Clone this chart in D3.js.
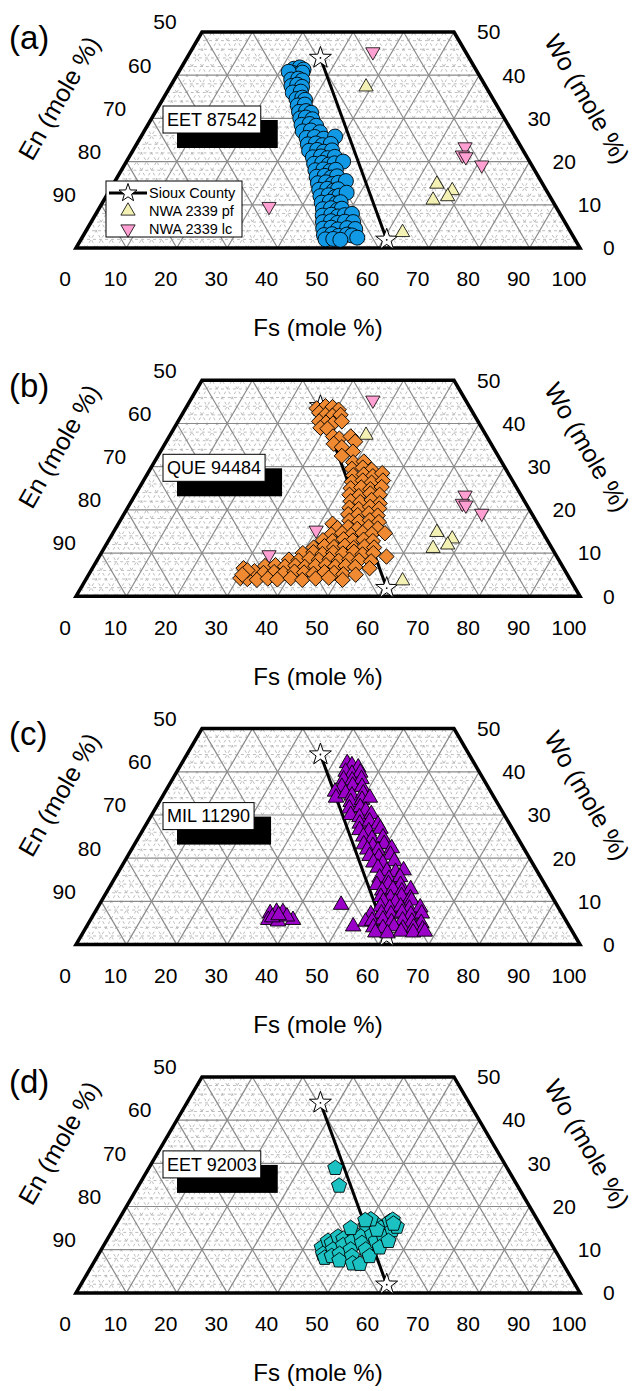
<!DOCTYPE html>
<html>
<head>
<meta charset="utf-8">
<script src="https://cdn.jsdelivr.net/npm/d3@7"></script>
<style>
  body { margin: 0; background: #fff; }
  text { font-family: "Liberation Sans", Arial, sans-serif; fill: #000; }
</style>
</head>
<body>
<svg id="chart" width="634" height="1391"></svg>
<script>
// ---- data (Fs, Wo) in mole % ; En = 100 - Fs - Wo ----
const panelLabels = ["(a)", "(b)", "(c)", "(d)"];
const sampleNames = ["EET 87542", "QUE 94484", "MIL 11290", "EET 92003"];
const fsTicks = [0, 10, 20, 30, 40, 50, 60, 70, 80, 90, 100];
const enTicks = [50, 60, 70, 80, 90];
const woTicks = [0, 10, 20, 30, 40, 50];
const legendNames = ["Sioux County", "NWA 2339 pf", "NWA 2339 lc"];

const siouxCounty = [[26.5, 44.0], [60.7, 1.9]];
const nwaPf = [[38.9, 37.3], [64.2, 14.8], [68.0, 13.3], [65.3, 11.1], [67.8, 11.9], [63.0, 3.6]];
const nwaLc = [[36.2, 45.4], [65.5, 23.4], [65.9, 21.5], [66.8, 21.1], [70.9, 19.2], [33.5, 9.6], [40.0, 15.3]];

const eet87542 = [
  [22.5,41.5],[23.5,41.8],[24.5,41.3],[22.8,40.5],[23.8,40.2],[24.6,40.6],[21.8,40.8],
  [23.2,39],[24.5,39.2],[25.5,38.8],[24,37.5],[25,37.8],[26.2,37.3],
  [25,36],[26.5,36.2],[26.5,34.5],[27.5,34.8],[28.3,34.3],[27.5,33],[28.8,33.2],
  [28.5,31.5],[29.8,31.7],[31,31.3],[29.5,30],[30.5,30.2],[32,29.8],
  [30.5,28.5],[32,28.7],[33.5,28.3],[31.5,27],[33,27.2],[35,26.8],
  [33,25.5],[34.5,25.7],[36.5,25.3],[38.5,25.8],[34,24],[35.5,24.2],[37,23.8],[38.5,24.1],
  [35,22.5],[36.5,22.7],[38,22.3],[39.5,22.6],[36.5,21],[38,21.2],[39.5,20.8],[40.8,21.1],
  [37.5,19.5],[39,19.7],[40.5,19.3],[41.5,19.6],[43,20],[38.5,18],[40,18.2],[41.5,17.8],[42.5,18.1],
  [39.5,16.5],[41,16.7],[42.5,16.3],[43.5,16.6],[40.5,15],[42,15.2],[43.5,14.8],[44.5,15.1],[45.8,15.5],
  [41.5,13.5],[43,13.7],[44.5,13.3],[45.2,13.6],[42.5,12],[44,12.2],[45.5,11.8],[46.2,12.1],[47.3,12.8],
  [43.5,10.5],[45,10.7],[46.5,10.3],[47.2,10.6],[44.5,9],[46,9.2],[47.5,8.8],[48.2,9.1],
  [45.2,7.5],[46.8,7.7],[48.3,7.3],[49.5,7.6],[50.8,7.9],[46,6],[47.5,6.2],[49,5.8],[50.3,6.1],[52,6],
  [46.8,4.5],[48.3,4.7],[49.8,4.3],[51.5,4.6],[53.2,4.4],[47.7,3],[49.2,3.2],[50.7,2.8],[52.2,3.1],[53.3,2.9],
  [48.5,2],[50,2.1],[51.5,1.9],[54.6,2.4]
];

const que94484 = [
  [26,43.5],[27.5,44],[29,43.8],[30.5,43.2],[27,42.5],[28.5,42],[30,41.8],[31.5,42],
  [28,40.5],[29.5,40.2],[31,40],[32.5,40.5],[29,39],[30.5,38.8],
  [32.5,37],[34,36.5],[36,37],[33.5,35.3],[35.5,34.5],[37.5,35.8],[38.2,33.5],[36.5,32.5],
  [39.5,31],[41.5,31.2],[40,29.5],[42,29.8],[44,29.3],[41,28],[43,28.2],[45,27.8],[46.5,28.5],
  [41.5,26.5],[43.5,26.8],[45.5,26.3],[47.5,26.8],[42,25],[44,25.2],[46,24.8],[48,25.3],
  [42.5,23.5],[44.5,23.2],[46.5,23.8],[48.5,23.5],[43.5,22],[45.5,21.8],[47.5,22.3],[49.5,21.5],
  [44,20.5],[46,20.2],[48,20.7],[50,20.3],[44.5,19],[46.5,18.8],[48.5,19.2],[50.5,18.7],
  [42.5,16.8],[45.5,17.5],[47.5,17.3],[49.5,17.6],[51.5,17.2],
  [44,15.8],[46,16],[48,15.6],[50,16.1],[52,15.7],
  [43.5,14.3],[45.5,14.6],[47.5,14.2],[49.5,14.7],[51.5,14.4],[54,14.6],
  [42.5,13],[44.5,12.8],[46.5,13.2],[48.5,12.9],[50.5,13.1],[52.5,12.8],
  [41.5,11.3],[43.5,11.6],[45.5,11.4],[47.5,11.7],[49.5,11.2],[51.5,11.5],[53.5,11.3],
  [40,10],[42,10.2],[44,9.8],[46,10.1],[48,9.9],[50,10.3],[52,9.7],[54,10],[57,9.2],
  [38,8.5],[40,8.3],[42,8.7],[44,8.4],[46,8.6],[48,8.2],[50,8.5],[52,8.3],[54.5,8.1],
  [34,7],[36,7.2],[38,6.9],[40,7.1],[42,6.8],[44,7],[46,7.2],[48,6.9],[50,7],[52,6.8],[55,6.5],
  [31,5.5],[32.5,5.8],[34.5,5.4],[36.5,5.6],[38.5,5.3],[40.5,5.7],[42.5,5.5],[44.5,5.2],
  [46.5,5.6],[48.5,5.4],[50.5,5.1],[53,5],
  [30.5,4.2],[32,4],[34,3.8],[36,4.1],[38,3.9],[40.5,4.2],[43,3.8],[45.5,4.1],[48,4.3],[51,3.8],
  [30,6.5],[31,6],[30.5,5]
];

const mil11290 = [
  [32.8,42],[34,41.5],[35.5,41],[33.5,40],[35,39.5],[36.5,39.8],[34,38.2],[35.8,38],[37.5,38.3],
  [34.5,36.5],[36.5,36.8],[38.5,36.5],[33.7,35.4],
  [34.6,34],[36,35],[37.5,34.5],[39.5,35],[38,33],[40,33.5],[41.3,34],
  [38.5,31.5],[40.5,31.8],[42,31],[39.5,30],[41.5,29.5],[43.5,30.2],
  [42.3,28],[44,28.5],[46,27.8],[43,26.5],[45,26.2],[47,26.8],
  [44.5,25],[46.5,24.5],[48.5,24.8],[45.5,23.2],[47.5,22.8],[49.5,23.3],[46.8,22],[49,21.8],[51.5,22.3],
  [48,20.5],[50,20.2],[52,20.8],[49.5,19],[51.5,18.8],[53.5,19.3],[51,17.8],
  [53.2,17],[55,16.8],[56.4,17.2],[52.5,15.5],[54.5,15.2],[56.5,15.6],[52.8,13.8],[55,14],[57.5,13.8],
  [54.5,12.5],[56.5,12.8],[58.5,12.3],[60,12.8],[55,11],[57,10.8],[59,11.2],[61,10.7],
  [56,10],[58.5,9.8],[61.5,10.2],
  [48,9.2],[56,8.8],[58,8.5],[60,8.8],[62,8.3],[64,8.6],[55,7],[57,7.2],[59,7],[61,7.4],[63,6.9],[65,7.2],
  [52.9,4.2],[54.8,5.3],[56,5.5],[58,5.8],[60,5.2],[62,5.6],[64,5.3],[66,5],
  [57,4],[59,3.8],[61,4.2],[63,3.7],[65,4],[67,3.5],[58,2.8],[60.5,2.6],[63,3],[65.5,2.8],[67.7,3],
  [34.9,7.25],[36,7.6],[37.3,7.5],[40.2,5.7],[35.3,5.7],[37.4,5.35],[38.6,6.5],[35.8,6.3],[36.8,6.8]
];

const eet92003 = [
  [37,28.9],[39.8,24.8],
  [43.5,10.5],[44,12],[44.5,9],[45.3,8.1],[45,11.5],[45.5,13],[46,10],[46.5,8.5],[46.8,12.5],
  [47.5,11],[47.8,9],[48,14],[48.5,7.5],[48.8,12],[49.5,10],[49.8,15.5],[50,13],[50.5,8.5],
  [51,11.5],[51.5,16],[51.5,6.8],[52,13.5],[52.5,10],[53,6.7],[53,15],[53.5,12],[54,8.5],
  [54,16.5],[54.4,16.9],[54.5,13],[55,10.5],[55.5,14.5],[56,15.3],[56,12],[52.4,14.6],
  [50,17],[47,15],[49,16.8],[55,16]
];

// ---- layout ----
const panelStep = 348.3;
const x = d3.scaleLinear().domain([0, 100]).range([76, 580]);
const y = d3.scaleLinear().domain([0, 50]).range([248, 32]);
const pt = d => [x(d[0] + d[1] / 2), y(d[1])];

function starPath(ro, ri) {
  const p = d3.path();
  for (let k = 0; k < 10; k++) {
    const r = k % 2 ? ri : ro, a = -Math.PI / 2 + k * Math.PI / 5;
    k ? p.lineTo(r * Math.cos(a), r * Math.sin(a)) : p.moveTo(r * Math.cos(a), r * Math.sin(a));
  }
  p.closePath();
  return p.toString();
}
function pentagonPath(r) {
  const p = d3.path();
  for (let k = 0; k < 5; k++) {
    const a = -Math.PI / 2 + k * 2 * Math.PI / 5;
    k ? p.lineTo(r * Math.cos(a), r * Math.sin(a)) : p.moveTo(r * Math.cos(a), r * Math.sin(a));
  }
  p.closePath();
  return p.toString();
}

const shapes = {
  circle: d3.symbol(d3.symbolCircle, 177)(),
  diamond: d3.symbol(d3.symbolSquare, 118)(),
  triangle: d3.symbol(d3.symbolTriangle, 105)(),
  pentagon: pentagonPath(8),
  up: d3.symbol(d3.symbolTriangle, 88)(),
  star: starPath(11.5, 4.6)
};

const panels = [
  { data: eet87542, shape: "circle", color: "#1199e6", rot: 0, nwa: true, legend: true },
  { data: que94484, shape: "diamond", color: "#f08a32", rot: 45, nwa: true, legend: false },
  { data: mil11290, shape: "triangle", color: "#9a00c8", rot: 0, nwa: false, legend: false },
  { data: eet92003, shape: "pentagon", color: "#1cc2c2", rot: 0, nwa: false, legend: false }
];

function seg(kind, v) {
  const top = Math.min(50, 100 - v);
  if (kind === "wo") return [pt([0, v]), pt([100 - v, v])];
  if (kind === "fs") return [pt([v, 0]), pt([v, top])];
  return [pt([100 - v, 0]), pt([100 - v - top, top])];
}

const svg = d3.select("#chart");
const line = d3.line();

panels.forEach((p, i) => {
  const g = svg.append("g").attr("transform", `translate(0,${i * panelStep})`);

  // minor texture lines
  const minor = [];
  d3.range(2, 100, 2).filter(v => v % 10).forEach(v => {
    if (v < 50) minor.push(seg("wo", v));
    minor.push(seg("fs", v));
    minor.push(seg("en", v));
  });
  g.append("g").selectAll("path").data(minor).join("path")
    .attr("d", line).attr("stroke", "#b5b5b5").attr("stroke-width", 0.9)
    .attr("stroke-dasharray", "3,3").attr("fill", "none");

  // major grid
  const major = [];
  d3.range(10, 100, 10).forEach(v => {
    if (v < 50) major.push(seg("wo", v));
    major.push(seg("fs", v));
    major.push(seg("en", v));
  });
  g.append("g").selectAll("path").data(major).join("path")
    .attr("d", line).attr("stroke", "#8a8a8a").attr("stroke-width", 1.2).attr("fill", "none");

  // outline
  g.append("path")
    .attr("d", line([pt([0, 0]), pt([0, 50]), pt([50, 50]), pt([100, 0])]) + "Z")
    .attr("fill", "none").attr("stroke", "#000").attr("stroke-width", 3.5)
    .attr("stroke-linejoin", "miter");

  // tick labels
  g.append("g").selectAll("text").data(fsTicks).join("text")
    .attr("x", d => x(d) - 11).attr("y", 279).attr("dy", "0.35em")
    .attr("text-anchor", "middle").attr("font-size", 21).text(d => d);
  g.append("g").selectAll("text").data(enTicks).join("text")
    .attr("x", d => pt([0, 100 - d])[0] - 37).attr("y", d => pt([0, 100 - d])[1] - 10)
    .attr("dy", "0.35em").attr("text-anchor", "middle").attr("font-size", 21).text(d => d);
  g.append("g").selectAll("text").data(woTicks).join("text")
    .attr("x", d => pt([100 - d, d])[0] + 23).attr("y", d => y(d))
    .attr("dy", "0.35em").attr("text-anchor", "start").attr("font-size", 21).text(d => d);

  // axis titles
  g.append("text").attr("transform", "translate(59,98) rotate(-60)")
    .attr("text-anchor", "middle").attr("dy", "0.35em").attr("font-size", 25).text("En (mole %)");
  g.append("text").attr("transform", "translate(587,99) rotate(60)")
    .attr("text-anchor", "middle").attr("dy", "0.35em").attr("font-size", 25).text("Wo (mole %)");
  g.append("text").attr("x", 318).attr("y", 328).attr("dy", "0.35em")
    .attr("text-anchor", "middle").attr("font-size", 24).text("Fs (mole %)");
  g.append("text").attr("x", 9).attr("y", 37).attr("dy", "0.35em")
    .attr("font-size", 33).text(panelLabels[i]);

  // sample name box with black shadow
  const shadow = g.append("rect").attr("fill", "#000");
  const box = g.append("rect").attr("fill", "#fff").attr("stroke", "#000").attr("stroke-width", 1);
  const name = g.append("text").attr("x", 167).attr("y", 119.5).attr("dy", "0.35em")
    .attr("font-size", 18).text(sampleNames[i]);
  const tw = name.node().getComputedTextLength();
  box.attr("x", 163).attr("y", 106).attr("width", tw + 8).attr("height", 27);
  shadow.attr("x", 177).attr("y", 120).attr("width", tw + 11).attr("height", 28);

  // Sioux County tie line
  g.append("path").attr("d", line(siouxCounty.map(pt)))
    .attr("stroke", "#000").attr("stroke-width", 3).attr("fill", "none");
  const stars = g.append("g").selectAll("g").data(siouxCounty).join("g")
    .attr("transform", d => `translate(${pt(d)})`);
  stars.append("path").attr("d", shapes.star).attr("fill", "#fff").attr("stroke", "#000").attr("stroke-width", 1);
  stars.append("circle").attr("r", 0.9).attr("fill", "#000");

  if (p.nwa) {
    g.append("g").selectAll("path").data(nwaPf).join("path")
      .attr("d", shapes.up).attr("transform", d => `translate(${pt(d)})`)
      .attr("fill", "#f4f1b4").attr("stroke", "#000").attr("stroke-width", 0.8);
    g.append("g").selectAll("path").data(nwaLc).join("path")
      .attr("d", shapes.up).attr("transform", d => `translate(${pt(d)}) rotate(180)`)
      .attr("fill", "#ff9fd2").attr("stroke", "#000").attr("stroke-width", 0.8);
  }

  // sample points
  g.append("g").selectAll("path").data(p.data).join("path")
    .attr("d", shapes[p.shape])
    .attr("transform", d => `translate(${pt(d)}) rotate(${p.rot})`)
    .attr("fill", p.color).attr("stroke", "#000").attr("stroke-width", 0.9);

  if (p.legend) {
    const lg = g.append("g");
    lg.append("rect").attr("x", 106).attr("y", 181).attr("width", 136).attr("height", 56)
      .attr("fill", "#fff").attr("stroke", "#000").attr("stroke-width", 1);
    const rows = [193, 211, 229];
    lg.append("line").attr("x1", 109).attr("x2", 147).attr("y1", rows[0]).attr("y2", rows[0])
      .attr("stroke", "#000").attr("stroke-width", 3);
    lg.append("path").attr("d", starPath(9.5, 3.8)).attr("transform", `translate(128,${rows[0]})`)
      .attr("fill", "#fff").attr("stroke", "#000").attr("stroke-width", 1);
    lg.append("path").attr("d", shapes.up).attr("transform", `translate(128,${rows[1]})`)
      .attr("fill", "#f4f1b4").attr("stroke", "#000").attr("stroke-width", 0.8);
    lg.append("path").attr("d", shapes.up).attr("transform", `translate(128,${rows[2]}) rotate(180)`)
      .attr("fill", "#ff9fd2").attr("stroke", "#000").attr("stroke-width", 0.8);
    lg.selectAll("text.lg").data(legendNames).join("text").attr("class", "lg")
      .attr("x", 149).attr("y", (d, k) => rows[k]).attr("dy", "0.35em")
      .attr("font-size", 14.5).text(d => d);
  }
});
</script>
</body>
</html>
